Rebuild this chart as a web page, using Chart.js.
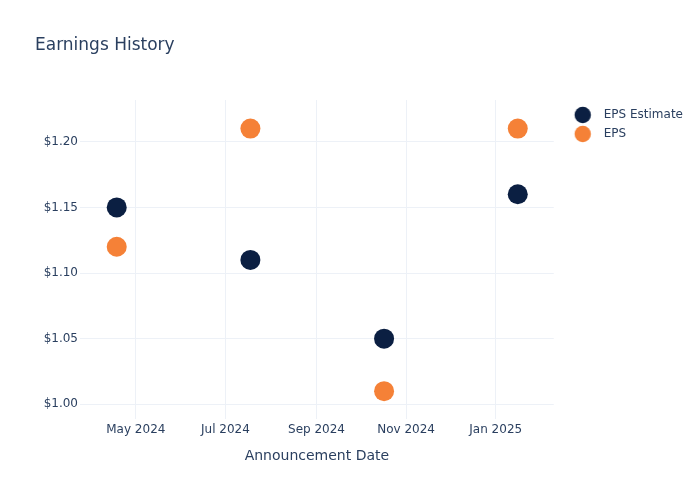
<!DOCTYPE html>
<html>
<head>
<meta charset="utf-8">
<script src="https://cdn.jsdelivr.net/npm/chart.js@4.4.1/dist/chart.umd.min.js"></script>
<style>
  html, body { margin: 0; padding: 0; background: #ffffff; }
  #wrap { width: 700px; height: 500px; }
</style>
</head>
<body>
<div id="wrap"><canvas id="c" width="700" height="500"></canvas></div>
<script>
// ---- data ----
const announcementDates = ['2024-04-18', '2024-07-18', '2024-10-17', '2025-01-16'];
const epsEstimate = [1.15, 1.11, 1.05, 1.16];
const epsActual = [1.12, 1.21, 1.01, 1.21];
const xTickDates = ['2024-05-01', '2024-07-01', '2024-09-01', '2024-11-01', '2025-01-01'];
const xTickLabels = ['May 2024', 'Jul 2024', 'Sep 2024', 'Nov 2024', 'Jan 2025'];
const yTickValues = [1.00, 1.05, 1.10, 1.15, 1.20];
const xRange = ['2024-03-24T00:00:00Z', '2025-02-09T12:00:00Z'];
const yRange = [0.9888, 1.2318];

const TEXT = '#2a3f5f';
const GRID = '#EDF1F7';
const NAVY = '#0b1f42';
const ORANGE = '#f58137';
const FONT = "'DejaVu Sans', Verdana, sans-serif";

const ts = d => Date.parse(d.length === 10 ? d + 'T00:00:00Z' : d);
const toPoints = vals => announcementDates.map((d, i) => ({ x: ts(d), y: vals[i] }));

function legendMarker(color) {
  const c = document.createElement('canvas');
  c.width = 37; c.height = 18;
  const g = c.getContext('2d');
  g.fillStyle = color;
  g.beginPath();
  g.arc(22, 9, 8.2, 0, Math.PI * 2);
  g.fill();
  return c;
}
const legendMarkers = [legendMarker(NAVY), legendMarker(ORANGE)];

const tickMap = {};
xTickDates.forEach((d, i) => { tickMap[ts(d)] = xTickLabels[i]; });

new Chart(document.getElementById('c'), {
  type: 'scatter',
  data: {
    datasets: [
      { label: 'EPS Estimate', data: toPoints(epsEstimate), backgroundColor: NAVY, borderColor: NAVY,
        pointRadius: 10, pointHoverRadius: 10, borderWidth: 0, pointStyle: 'circle' },
      { label: 'EPS', data: toPoints(epsActual), backgroundColor: ORANGE, borderColor: ORANGE,
        pointRadius: 10, pointHoverRadius: 10, borderWidth: 0, pointStyle: 'circle' }
    ]
  },
  options: {
    responsive: false,
    animation: false,
    layout: { padding: { left: 35, right: 7, top: 0, bottom: 0 } },
    plugins: {
      tooltip: { enabled: false },
      title: {
        display: true, text: 'Earnings History', align: 'start', color: TEXT,
        font: { family: FONT, size: 17, weight: 'normal', lineHeight: 1.2 },
        padding: { top: 35.8, bottom: 43.8 }
      },
      legend: {
        position: 'right', align: 'start', fullSize: false,
        title: { display: true, text: ' ', font: { family: FONT, size: 1, lineHeight: 1 }, padding: { top: 1, bottom: 0 } },
        labels: {
          color: TEXT, font: { family: FONT, size: 12 },
          usePointStyle: true, pointStyleWidth: 37, boxHeight: 12, padding: 7,
          generateLabels: (chart) => {
            const items = Chart.defaults.plugins.legend.labels.generateLabels(chart);
            items.forEach((it, i) => { it.pointStyle = legendMarkers[i]; });
            return items;
          }
        }
      }
    },
    scales: {
      x: {
        type: 'linear', min: ts(xRange[0]), max: ts(xRange[1]),
        afterBuildTicks: (s) => { s.ticks = xTickDates.map(d => ({ value: ts(d) })); },
        afterFit: (s) => { s.height = 81; },
        ticks: { color: TEXT, font: { family: FONT, size: 12 }, padding: 4, maxRotation: 0, autoSkip: false,
          callback: (v) => tickMap[v] || '' },
        grid: { color: GRID, lineWidth: 1, drawTicks: false },
        border: { display: false },
        title: { display: true, text: 'Announcement Date', color: TEXT,
          font: { family: FONT, size: 14, lineHeight: 1.2 }, padding: { top: 0, bottom: 35.6 } }
      },
      y: {
        type: 'linear', min: yRange[0], max: yRange[1],
        afterBuildTicks: (s) => { s.ticks = yTickValues.map(v => ({ value: v })); },
        afterFit: (s) => { s.width = 45; },
        ticks: { color: TEXT, font: { family: FONT, size: 12 }, padding: 2,
          callback: (v) => '$' + Number(v).toFixed(2) },
        grid: { color: GRID, lineWidth: 1, drawTicks: false },
        border: { display: false }
      }
    }
  }
});
</script>
</body>
</html>
